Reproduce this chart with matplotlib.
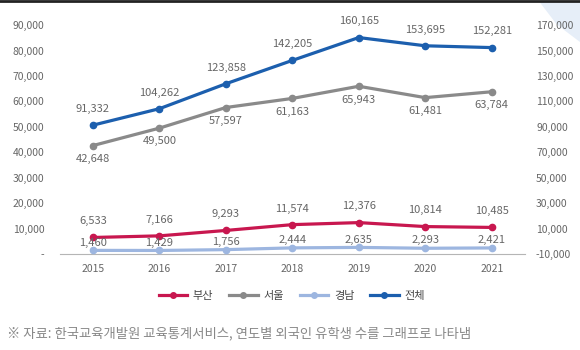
import matplotlib.pyplot as plt
from matplotlib.ticker import FuncFormatter
from matplotlib.patches import Polygon
from matplotlib.lines import Line2D

plt.rcParams['font.family'] = ['Noto Sans CJK KR', 'DejaVu Sans']

# Data
years = ["2015", "2016", "2017", "2018", "2019", "2020", "2021"]
busan = [6533, 7166, 9293, 11574, 12376, 10814, 10485]
seoul = [42648, 49500, 57597, 61163, 65943, 61481, 63784]
gyeongnam = [1460, 1429, 1756, 2444, 2635, 2293, 2421]
total = [91332, 104262, 123858, 142205, 160165, 153695, 152281]

left_ticks = list(range(0, 90001, 10000))
right_ticks = list(range(-10000, 170001, 20000))

c_busan = "#c8174f"
c_seoul = "#8a8a8a"
c_gn = "#9db6e0"
c_total = "#1c5fae"
txt = "#666666"

fig = plt.figure(figsize=(5.8, 3.5), dpi=100)
ax = fig.add_axes([0.103, 0.274, 0.802, 0.669])
ax2 = ax.twinx()

x = list(range(len(years)))

def fmt_left(v, pos):
    return "-" if v == 0 else f"{int(v):,}"

ax.plot(x, busan, color=c_busan, lw=2.3, marker="o", ms=4.5, zorder=3)
ax.plot(x, seoul, color=c_seoul, lw=2.3, marker="o", ms=4.5, zorder=3)
ax.plot(x, gyeongnam, color=c_gn, lw=2.3, marker="o", ms=4.5, zorder=3)
ax2.plot(x, total, color=c_total, lw=2.3, marker="o", ms=4.5, zorder=3)

fs = 8
for i in x:
    ax.annotate(f"{busan[i]:,}", (i, busan[i]), xytext=(0, 8), textcoords="offset points",
                ha="center", va="bottom", fontsize=fs, color=txt)
    ax.annotate(f"{seoul[i]:,}", (i, seoul[i]), xytext=(0, -6), textcoords="offset points",
                ha="center", va="top", fontsize=fs, color=txt)
    ax.annotate(f"{gyeongnam[i]:,}", (i, gyeongnam[i]), xytext=(0, 2), textcoords="offset points",
                ha="center", va="bottom", fontsize=fs, color=txt)
    ax2.annotate(f"{total[i]:,}", (i, total[i]), xytext=(0, 8), textcoords="offset points",
                 ha="center", va="bottom", fontsize=fs, color=txt)

ax.set_xlim(-0.5, 6.5)
ax.set_ylim(0, 92000)
ax2.set_ylim(-10000, 174000)
ax.set_xticks(x)
ax.set_xticklabels(years)
ax.set_yticks(left_ticks)
ax2.set_yticks(right_ticks)
ax.yaxis.set_major_formatter(FuncFormatter(fmt_left))
ax2.yaxis.set_major_formatter(FuncFormatter(lambda v, p: f"{int(v):,}"))

for a in (ax, ax2):
    for s in ("top", "left", "right"):
        a.spines[s].set_visible(False)
    a.spines["bottom"].set_color("#b5b5b5")
    a.tick_params(length=0, labelsize=7.5, colors=txt)
ax2.spines["bottom"].set_visible(False)
ax.tick_params(axis="y", pad=11)
ax.tick_params(axis="x", pad=7)
ax2.tick_params(axis="y", pad=8)

handles = [
    Line2D([], [], color=c_busan, lw=2.3, marker="o", ms=4),
    Line2D([], [], color=c_seoul, lw=2.3, marker="o", ms=4),
    Line2D([], [], color=c_gn, lw=2.3, marker="o", ms=4),
    Line2D([], [], color=c_total, lw=2.3, marker="o", ms=4),
]
fig.legend(handles, ["부산", "서울", "경남", "전체"], loc="center", bbox_to_anchor=(0.503, 0.154),
           ncol=4, frameon=False, fontsize=8, handlelength=2.6, columnspacing=1.4,
           handletextpad=0.5, labelcolor="#444444")

fig.text(0.012, 0.048, "※ 자료: 한국교육개발원 교육통계서비스, 연도별 외국인 유학생 수를 그래프로 나타냄",
         fontsize=9.6, color="#888888", ha="left", va="center")

# decorative top border and corner shape
fig.add_artist(Line2D([0, 1], [0.997, 0.997], color="#222222", lw=2, transform=fig.transFigure))
fig.add_artist(Polygon([[0.93, 0.995], [1.0, 0.995], [1.0, 0.88], [0.96, 0.93]],
                       closed=True, facecolor="#e6eef8", edgecolor="none",
                       transform=fig.transFigure, zorder=-1))

fig.savefig("out.png", dpi=100)
